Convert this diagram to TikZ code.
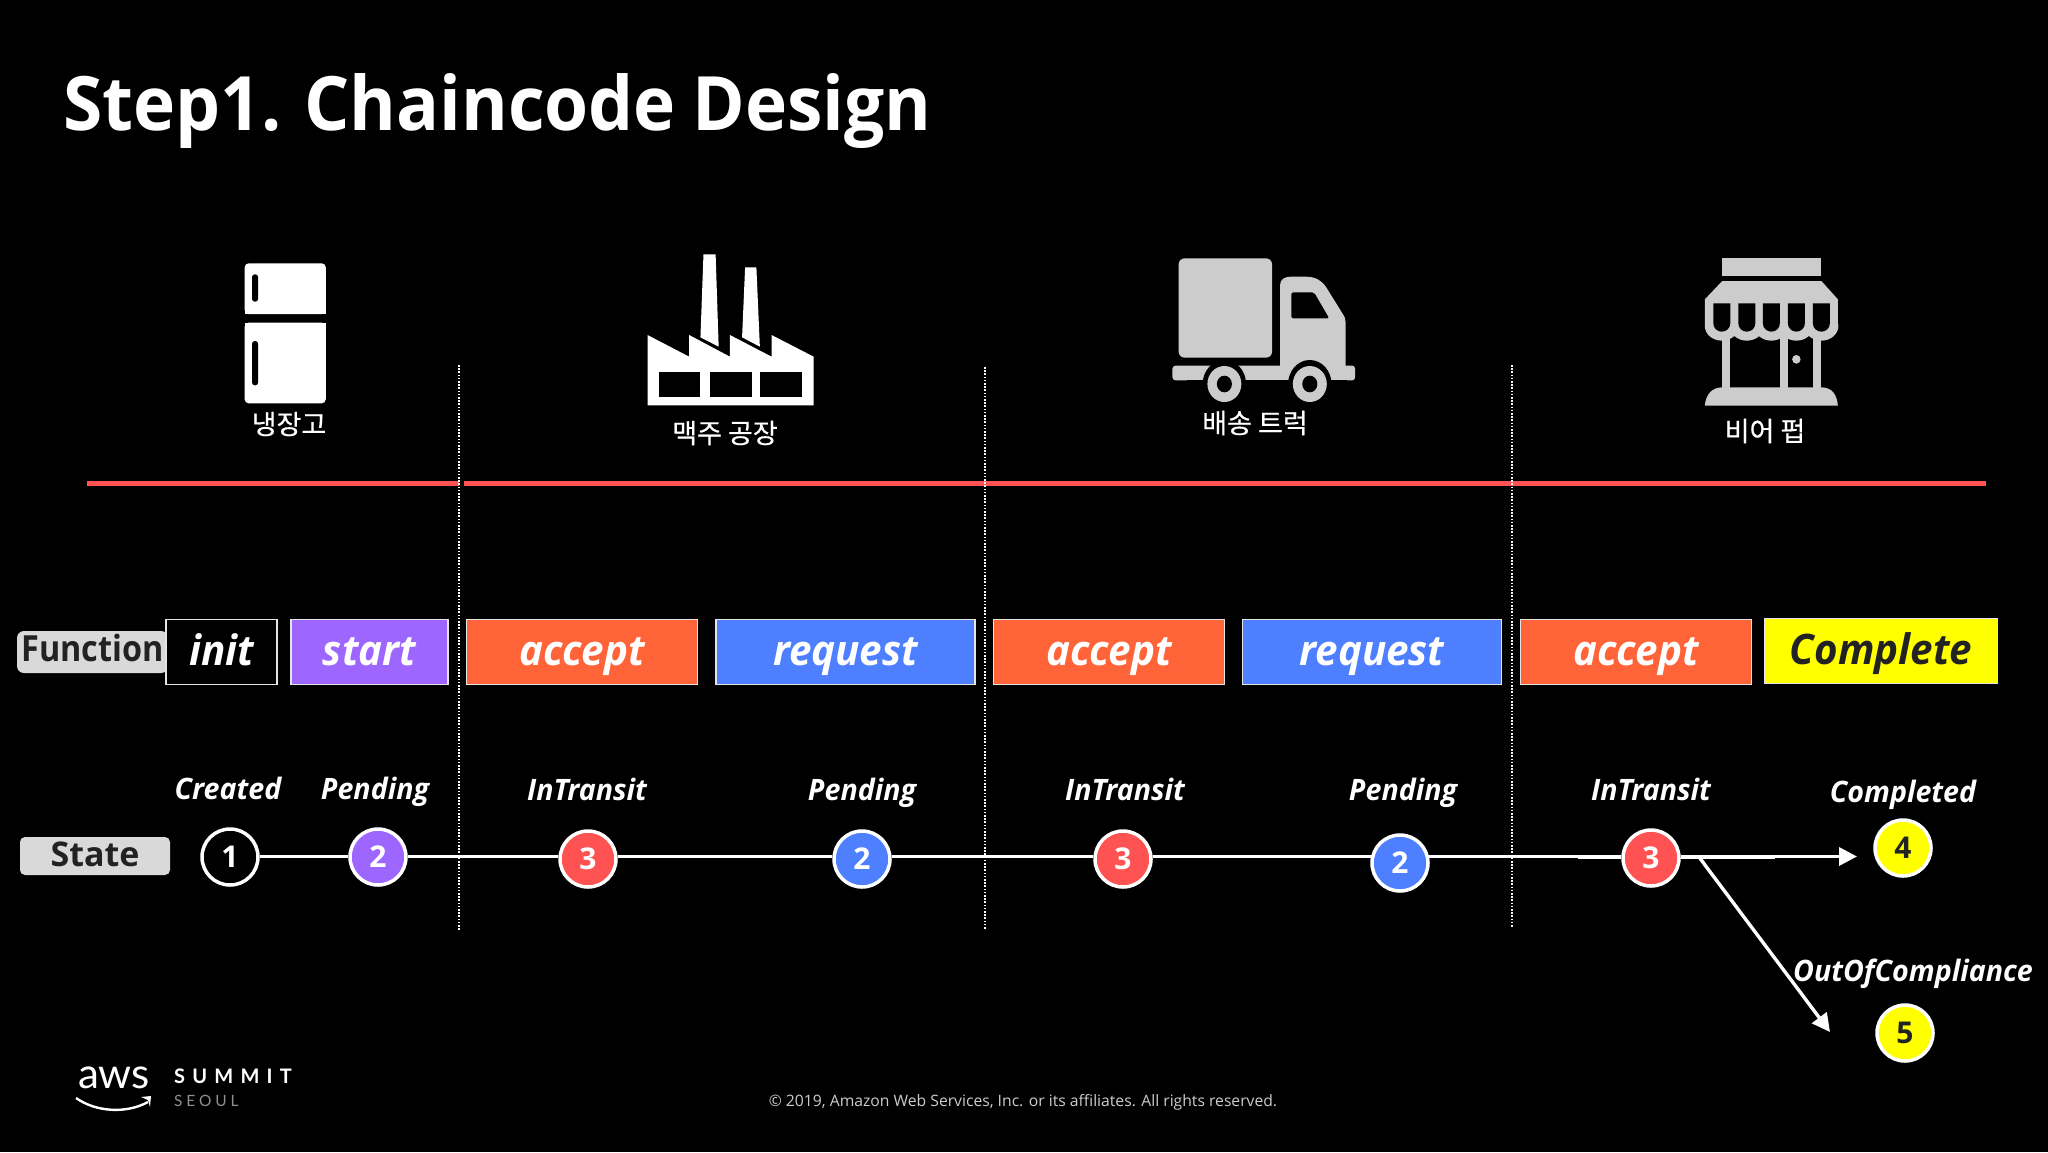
\documentclass[tikz,border=0pt]{standalone}
\usepackage{fontspec}
\setmainfont{Open Sans}
\newfontfamily\kofont[FakeBold=0.5]{Noto Sans CJK KR}
\newfontfamily\logofont{Lato}
\usetikzlibrary{arrows.meta}
\definecolor{cPurple}{HTML}{9D66FF}
\definecolor{cOrange}{HTML}{FF6338}
\definecolor{cBlue}{HTML}{4D7FFF}
\definecolor{cRed}{HTML}{FF5252}
\definecolor{cYellow}{HTML}{FFFF00}
\definecolor{cGrey}{HTML}{D9D9D9}
\definecolor{cIcon}{HTML}{CCCCCC}
\definecolor{cInk}{HTML}{222222}
\newcommand{\fs}[1]{\fontsize{#1}{#1}\selectfont}
\tikzset{
  fnbox/.style={draw=white!90!black,line width=1.6pt,inner sep=0pt,minimum height=65pt,text height=37pt,text depth=10pt,text=white,font=\fs{42}\bfseries\itshape\addfontfeatures{FakeStretch=0.96}},
  tagbox/.style={fill=cGrey,rounded corners=7pt,inner sep=0pt,text=cInk,font=\fs{36}\bfseries\addfontfeatures{FakeStretch=0.9}},
  statecirc/.style={circle,draw=white,line width=3.5pt,minimum size=56pt,inner sep=0pt,text=white,font=\fs{30}\bfseries},
  statelab/.style={anchor=base,inner sep=0pt,text=white,font=\fs{29.5}\bfseries\itshape\addfontfeatures{FakeStretch=0.97}},
  kolab/.style={inner sep=0pt,text=white,font=\fs{27}\kofont},
  link/.style={draw=white,line width=3.4pt},
  arrowlink/.style={link,-{Triangle[length=18pt,width=18pt]}},
  divider/.style={draw=white,line width=1.6pt,dash pattern=on 1.6pt off 1.6pt},
  redline/.style={draw=cRed,line width=5pt}
}
\begin{document}
\begin{tikzpicture}[x=1pt,y=-1pt]
\fill[black] (0,0) rectangle (2048,1152);
\useasboundingbox (0,0) rectangle (2048,1152);

% title
\node[anchor=base west,inner sep=0pt,text=white,font=\fs{75}\bfseries\addfontfeatures{FakeStretch=0.95}] (title) at (63,130) {\spaceskip=16.5pt\relax Step1. Chaincode Design};

% fridge
\begin{scope}[shift={(200,240)},x=0.43365pt,y=-0.33333pt]
  \fill[white,rounded corners=4pt] (103,222) -- (103,70) -- (290,70) -- (290,222) -- cycle;
  \fill[white] (103,222) rectangle (290,190);
  \fill[white,rounded corners=4pt] (103,490) -- (103,248) -- (290,248) -- (290,490) -- cycle;
  \fill[white] (103,248) rectangle (290,280);
  \fill[black,rounded corners=2.8pt] (120,103) rectangle (134,185);
  \fill[black,rounded corners=2.8pt] (120,303) rectangle (134,436);
  % factory
  \fill[white] (1032,496) -- (1032,285) -- (1128,350) -- (1128,285) -- (1222,350) -- (1222,285) -- (1318,350) -- (1318,285) -- (1415,350) -- (1415,496) -- cycle;
  \fill[white] (1161,43) -- (1189,43) -- (1196,320) -- (1154,292) -- cycle;
  \fill[white] (1257,82) -- (1283,82) -- (1291,320) -- (1250,292) -- cycle;
  \fill[black] (1058,395) rectangle (1154,470);
  \fill[black] (1175,395) rectangle (1272,470);
  \fill[black] (1292,395) rectangle (1388,470);
\end{scope}

% truck and shop
\begin{scope}[shift={(1130,240)},x=0.47192pt,y=-0.33333pt]
  \fill[cIcon,rounded corners=6pt] (103,353) -- (103,55) -- (301,55) -- (301,353) -- cycle;
  \fill[cIcon,rounded corners=3pt] (90,377) rectangle (477,421);
  \fill[cIcon] (318,400) -- (318,135) .. controls (318,118) and (328,110) .. (340,110) -- (372,110) .. controls (392,110) and (405,120) .. (415,140) -- (450,220) .. controls (456,232) and (457,240) .. (457,250) -- (457,400) -- cycle;
  \fill[black,rounded corners=2pt] (342,157) -- (390,157) -- (422,235) -- (342,235) -- cycle;
  \fill[black] (200,432) circle [x radius=46, y radius=72];
  \fill[black] (381,432) circle [x radius=46, y radius=72];
  \fill[black] (120,421) rectangle (460,500);
  \fill[cIcon] (200,432) circle [x radius=36, y radius=54];
  \fill[cIcon] (381,432) circle [x radius=36, y radius=54];
  \fill[black] (200,432) circle [x radius=16, y radius=25];
  \fill[black] (381,432) circle [x radius=16, y radius=25];
  % shop
  \fill[cIcon] (1255,53) rectangle (1465,108);
  \fill[cIcon] (1255,123) -- (1465,123) -- (1500,178) -- (1500,255) -- (1218,255) -- (1218,178) -- cycle;
  \foreach \cx in {1254,1307,1359,1412,1465} {
    \fill[cIcon] (\cx,258) circle [x radius=36, y radius=44];
  }
  \foreach \cx in {1254,1307,1359,1412,1465} {
    \fill[black] (\cx-18,190) -- (\cx+18,190) -- (\cx+18,250) arc [start angle=0,end angle=180,x radius=18,y radius=25] -- cycle;
  }
  \fill[cIcon] (1255,280) rectangle (1272,445);
  \fill[cIcon] (1377,280) rectangle (1395,445);
  \fill[cIcon] (1447,280) rectangle (1465,445);
  \fill[cIcon] (1218,497) .. controls (1220,465) and (1232,442) .. (1255,442) -- (1465,442) .. controls (1488,442) and (1498,465) .. (1500,497) -- cycle;
  \fill[cIcon] (1412,358) circle [x radius=9, y radius=13];
\end{scope}

% place labels
\node[kolab] (lfridge) at (289,424) {냉장고};
\node[kolab] (lfactory) at (725,433) {맥주 공장};
\node[kolab] (ltruck) at (1255,423) {배송 트럭};
\node[kolab] (lpub) at (1765,431) {비어 펍};

% red rule
\coordinate (r1) at (87,483); \coordinate (r2) at (459,483);
\coordinate (r3) at (464,483); \coordinate (r4) at (1986,483);
\draw[redline] (r1) -- (r2);
\draw[redline] (r3) -- (r4);

% dividers
\coordinate (d1a) at (459,365); \coordinate (d1b) at (459,930);
\coordinate (d2a) at (985,367); \coordinate (d2b) at (985,930);
\coordinate (d3a) at (1512,365); \coordinate (d3b) at (1512,928);
\draw[divider] (d1a) -- (d1b);
\draw[divider] (d2a) -- (d2b);
\draw[divider] (d3a) -- (d3b);

% function row
\node[tagbox,minimum width=151pt,minimum height=42pt,text height=26pt,text depth=8pt] (fn) at (92.5,652) {Function};
\node[fnbox,fill=black,minimum width=111pt] (finit) at (221.5,652) {init};
\node[fnbox,fill=cPurple,minimum width=157pt] (fstart) at (369.5,652) {start};
\node[fnbox,fill=cOrange,minimum width=231pt] (facc1) at (582,652) {accept};
\node[fnbox,fill=cBlue,minimum width=259pt] (freq1) at (845.5,652) {request};
\node[fnbox,fill=cOrange,minimum width=231pt] (facc2) at (1109,652) {accept};
\node[fnbox,fill=cBlue,minimum width=259pt] (freq2) at (1372,652) {request};
\node[fnbox,fill=cOrange,minimum width=231pt] (facc3) at (1636,652) {accept};
\node[fnbox,fill=cYellow,text=cInk,minimum width=233pt] (fcomp) at (1881,651) {Complete};

% state row
\node[tagbox,minimum width=150pt,minimum height=38pt,text height=24pt,text depth=3pt,rounded corners=5pt,font=\fs{34}\bfseries] (st) at (95,856) {State};
\node[statecirc,fill=black] (c1) at (230,857) {1};
\node[statecirc,fill=cPurple] (c2) at (378,857) {2};
\node[statecirc,fill=cRed] (c3) at (588,859) {3};
\node[statecirc,fill=cBlue] (c4) at (862,859) {2};
\node[statecirc,fill=cRed] (c5) at (1123,859) {3};
\node[statecirc,fill=cBlue] (c6) at (1400,863) {2};
\node[statecirc,fill=cRed] (c7) at (1651,858) {3};
\node[statecirc,fill=cYellow,text=cInk] (c8) at (1903,848) {4};
\node[statecirc,fill=cYellow,text=cInk] (c9) at (1905,1033) {5};

\coordinate (u0) at (0,856.5);
\coordinate (u1) at (1372,856.5); \coordinate (u2) at (1428,856.5);
\coordinate (t1) at (1578,856.5); \coordinate (t2) at (1775,856.5);
\coordinate (a4) at (1857,856.5);
\coordinate (b1) at (1699,857); \coordinate (a5) at (1830,1032);
\draw[link] (c1.east |- u0) -- (c2.west |- u0);
\draw[link] (c2.east |- u0) -- (c3.west |- u0);
\draw[link] (c3.east |- u0) -- (c4.west |- u0);
\draw[link] (c4.east |- u0) -- (c5.west |- u0);
\draw[link] (c5.east |- u0) -- (u1);
\draw[link] (u2) -- (c7.west |- u0);
\draw[link,line width=4pt] (t1) -- (c7.west |- u0);
\draw[link,line width=4pt] (c7.east |- u0) -- (t2);
\draw[arrowlink] (c7.east |- u0) -- (a4);
\draw[arrowlink] (b1) -- (a5);

% state labels
\node[statelab] (lcreated) at (228,799) {Created};
\node[statelab] (lp1) at (375,799) {Pending};
\node[statelab] (lt1) at (587,800) {InTransit};
\node[statelab] (lp2) at (862,800) {Pending};
\node[statelab] (lt2) at (1125,800) {InTransit};
\node[statelab] (lp3) at (1403,800) {Pending};
\node[statelab] (lt3) at (1651,800) {InTransit};
\node[statelab] (lcompl) at (1903,802) {Completed};
\node[statelab] (lout) at (1913,981) {OutOfCompliance};

% footer
\node[anchor=base,inner sep=0pt,text=cIcon,font=\fs{15.7}] (copy) at (1023,1106) {© 2019, Amazon Web Services, Inc. or its affiliates. All rights reserved.};

% logo
\node[anchor=base west,inner sep=0pt,text=white,font=\fs{42}\logofont] (aws) at (78,1088) {aws};
\node[anchor=base west,inner sep=0pt,text=white,font=\fs{20}\logofont\bfseries\addfontfeatures{LetterSpace=36}] (summit) at (174,1083) {SUMMIT};
\node[anchor=base west,inner sep=0pt,text=cIcon!70!black,font=\fs{15.5}\logofont\addfontfeatures{LetterSpace=25}] (seoul) at (174,1106) {SEOUL};
\draw[white,line width=2.4pt] (76,1098) .. controls (96,1112) and (126,1114) .. (148,1102);
\fill[white] (141,1097) -- (151,1096) -- (150,1107) -- (148,1100) -- cycle;
\end{tikzpicture}
\end{document}
